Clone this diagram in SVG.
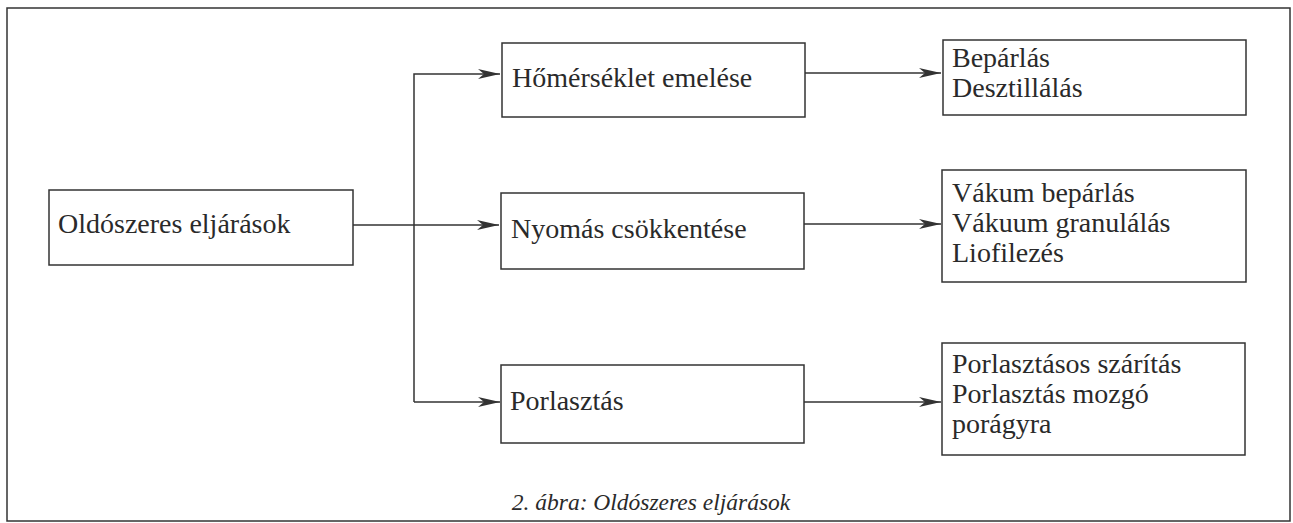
<svg xmlns="http://www.w3.org/2000/svg" width="1293" height="523" viewBox="0 0 1293 523">
<style>
.box{fill:#fff;stroke:#333;stroke-width:1.5}
.frame{fill:none;stroke:#333;stroke-width:1.5}
.t{font-family:"Liberation Serif","DejaVu Serif",serif;font-size:28px;fill:#2a2a2a}
.cap{font-family:"Liberation Serif","DejaVu Serif",serif;font-size:23.5px;font-style:italic;fill:#2a2a2a}
.c{fill:none;stroke:#333;stroke-width:1.5}
</style>
<defs>
<marker id="ah" markerUnits="userSpaceOnUse" markerWidth="24" markerHeight="12" refX="22" refY="6" orient="auto">
<path d="M0,1 L22,6 L0,11 L6,6 Z" fill="#333"/>
</marker>
</defs>
<rect class="frame" x="7" y="8" width="1283" height="513"/>
<g id="connectors">
<path class="c" d="M353,225 H499" marker-end="url(#ah)"/>
<path class="c" d="M414,402 V74 H500" marker-end="url(#ah)"/>
<path class="c" d="M414,402 H500" marker-end="url(#ah)"/>
<path class="c" d="M805,73 H941" marker-end="url(#ah)"/>
<path class="c" d="M804,224 H941" marker-end="url(#ah)"/>
<path class="c" d="M804,402 H941" marker-end="url(#ah)"/>
</g>
<g id="n-oldoszeres">
<rect class="box" x="49" y="190" width="304" height="75"/>
<text class="t" x="58" y="233">Oldószeres eljárások</text>
</g>
<g id="n-homerseklet">
<rect class="box" x="502" y="43" width="303" height="74"/>
<text class="t" x="512" y="87">Hőmérséklet emelése</text>
</g>
<g id="n-nyomas">
<rect class="box" x="501" y="193" width="303" height="76"/>
<text class="t" x="511" y="238">Nyomás csökkentése</text>
</g>
<g id="n-porlasztas">
<rect class="box" x="501" y="365" width="303" height="78"/>
<text class="t" x="510" y="410">Porlasztás</text>
</g>
<g id="n-beparlas">
<rect class="box" x="943" y="40" width="303" height="75"/>
<text class="t" x="952" y="67">Bepárlás</text>
<text class="t" x="952" y="97">Desztillálás</text>
</g>
<g id="n-vakum">
<rect class="box" x="942" y="170" width="304" height="112"/>
<text class="t" x="952" y="202">Vákum bepárlás</text>
<text class="t" x="952" y="232">Vákuum granulálás</text>
<text class="t" x="952" y="262">Liofilezés</text>
</g>
<g id="n-porlasztasos">
<rect class="box" x="942" y="343" width="303" height="112"/>
<text class="t" x="952" y="373">Porlasztásos szárítás</text>
<text class="t" x="952" y="403">Porlasztás mozgó</text>
<text class="t" x="952" y="433">porágyra</text>
</g>
<text class="cap" x="651" y="510" text-anchor="middle">2. ábra: Oldószeres eljárások</text>
</svg>
